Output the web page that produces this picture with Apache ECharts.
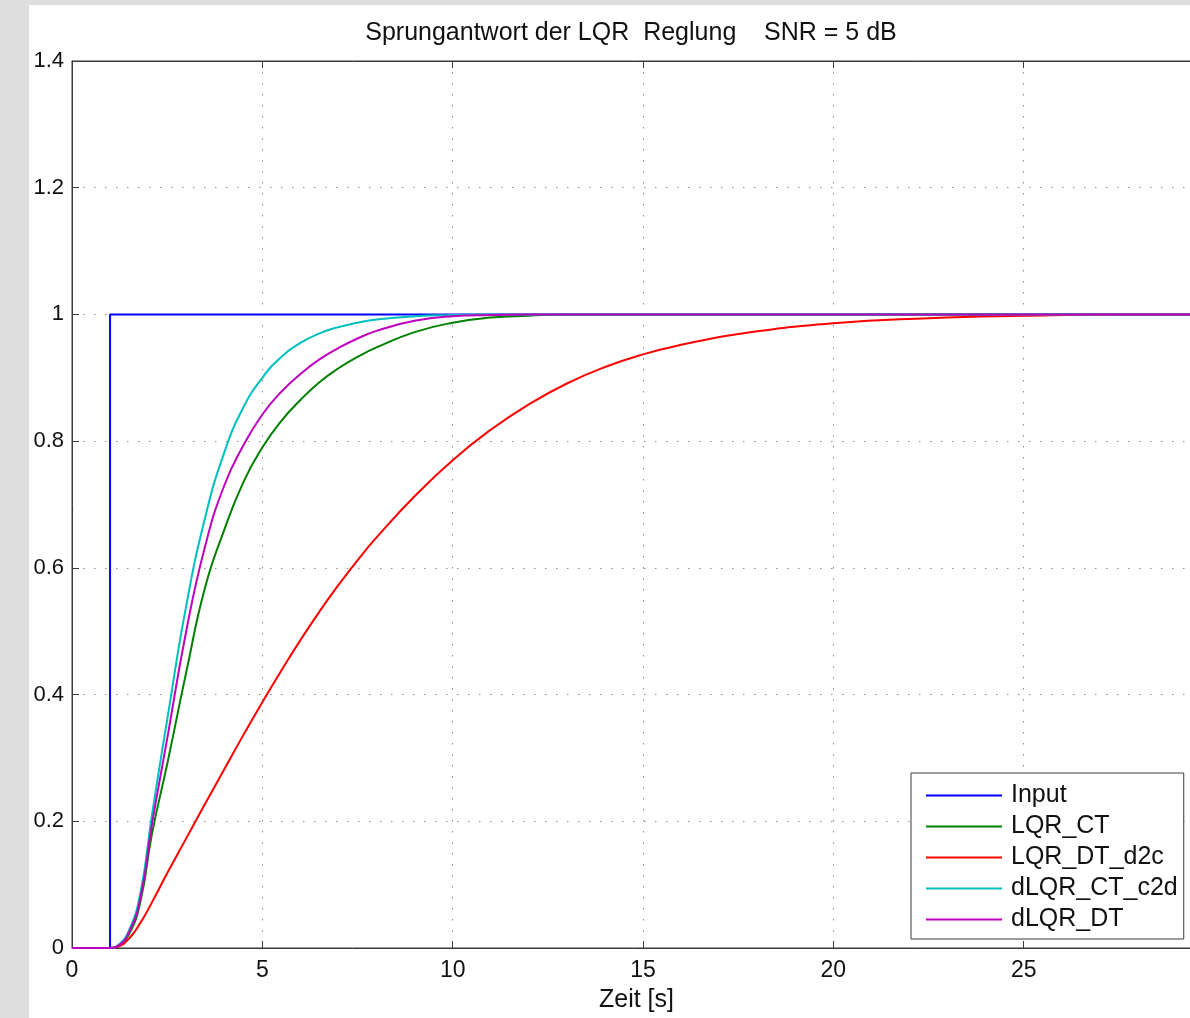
<!DOCTYPE html>
<html>
<head>
<meta charset="utf-8">
<script src="https://cdn.jsdelivr.net/npm/echarts@6/dist/echarts.min.js"></script>
<style>
html,body{margin:0;padding:0;background:#dedede;width:1190px;height:1018px;overflow:hidden;}
#c{position:absolute;left:29px;top:5px;width:1220px;height:1013px;background:#fff;}
</style>
</head>
<body>
<div id="c"></div>
<script>
const titleText = 'Sprungantwort der LQR  Reglung    SNR = 5 dB';
const xName = 'Zeit [s]';
const seriesNames = ['Input', 'LQR_CT', 'LQR_DT_d2c', 'dLQR_CT_c2d', 'dLQR_DT'];
const T = [0, 1, 1.2, 1.5, 1.8, 2.1, 2.5, 3, 3.5, 4, 4.5, 5, 5.5, 6, 6.5, 7, 7.5, 8, 9, 10, 11, 12, 13, 14, 15, 16, 17.5, 20, 22.5, 25, 27.5, 29.5];
const inputT = [0, 1, 1, 29.5];
const inputV = [0, 0, 1, 1];
const lqrCT    = [0,0,0.003,0.022,0.074,0.18,0.29,0.435,0.57,0.66,0.735,0.79,0.832,0.865,0.893,0.915,0.933,0.948,0.972,0.987,0.995,0.998,1,1,1,1,1,1,1,1,1,1];
const lqrDTd2c = [0,0,0.002,0.015,0.04,0.072,0.118,0.173,0.228,0.282,0.336,0.388,0.438,0.486,0.531,0.573,0.612,0.648,0.713,0.77,0.818,0.858,0.891,0.917,0.937,0.952,0.969,0.986,0.994,0.998,1,1];
const dlqrCTc2d= [0,0,0.004,0.028,0.088,0.21,0.36,0.54,0.68,0.782,0.853,0.9,0.933,0.955,0.97,0.98,0.987,0.992,0.997,0.999,1,1,1,1,1,1,1,1,1,1,1,1];
const dlqrDT   = [0,0,0.003,0.025,0.08,0.195,0.33,0.50,0.635,0.73,0.793,0.842,0.878,0.906,0.929,0.947,0.962,0.974,0.99,0.997,0.999,1,1,1,1,1,1,1,1,1,1,1];
const colors = ['#0000ff', '#008000', '#ff0000', '#00bfbf', '#bf00bf'];
const xTicks = [0, 5, 10, 15, 20, 25];

const pair = (xs, ys) => xs.map((x, i) => [x, ys[i]]);
const FONT = 'Liberation Sans';
const chart = echarts.init(document.getElementById('c'));
const gridLine = {show: true, lineStyle: {color: '#8c8c8c', width: 1, type: [1.5, 9.5]}};
const axisLine = {show: true, lineStyle: {color: '#3a3a3a', width: 1}};
const tick = {show: true, inside: true, length: 7, lineStyle: {color: '#3a3a3a'}};
const mk = (name, data, color) => ({
  name, type: 'line', data, symbol: 'none', showSymbol: false,
  smooth: name === 'Input' ? false : 0.5,
  lineStyle: {color, width: 2}, itemStyle: {color}, animation: false, clip: true
});
chart.setOption({
  animation: false,
  grid: {left: 43, top: 56, width: 1123, height: 887, show: true, borderColor: '#3a3a3a', borderWidth: 1, backgroundColor: '#fff'},
  xAxis: [{
    type: 'value', min: 0, max: 29.5, interval: 5,
    axisLine, axisTick: tick, splitLine: gridLine,
    axisLabel: {color: '#111', fontFamily: FONT, fontSize: 23, margin: 11,
      formatter: v => xTicks.includes(v) ? String(v) : ''},
    name: xName, nameLocation: 'middle', nameGap: 40,
    nameTextStyle: {color: '#111', fontFamily: FONT, fontSize: 25, padding: [0, 0, 0, 6]}
  }, {
    type: 'value', position: 'top', min: 0, max: 29.5, interval: 5,
    axisLine, axisTick: tick, axisLabel: {show: false}, splitLine: {show: false}
  }],
  yAxis: [{
    type: 'value', min: 0, max: 1.4, interval: 0.2,
    axisLine, axisTick: tick, splitLine: gridLine,
    axisLabel: {color: '#111', fontFamily: FONT, fontSize: 22, margin: 8}
  }],
  legend: {
    orient: 'vertical', left: 882, top: 768,
    data: seriesNames,
    icon: 'rect',
    itemWidth: 76, itemHeight: 2, itemGap: 6,
    backgroundColor: '#fff', borderColor: '#3a3a3a', borderWidth: 1,
    padding: [10, 6, 7, 15],
    textStyle: {color: '#111', fontFamily: FONT, fontSize: 25, padding: [0, 0, 0, 4]},
    selectedMode: false
  },
  graphic: [{
    type: 'text', x: 602, y: 28,
    style: {text: titleText, fill: '#111', font: '25px "Liberation Sans"', textAlign: 'center', textVerticalAlign: 'middle'}
  }],
  series: [
    mk(seriesNames[0], pair(inputT, inputV), colors[0]),
    mk(seriesNames[1], pair(T, lqrCT), colors[1]),
    mk(seriesNames[2], pair(T, lqrDTd2c), colors[2]),
    mk(seriesNames[3], pair(T, dlqrCTc2d), colors[3]),
    mk(seriesNames[4], pair(T, dlqrDT), colors[4])
  ]
});
</script>
</body>
</html>
